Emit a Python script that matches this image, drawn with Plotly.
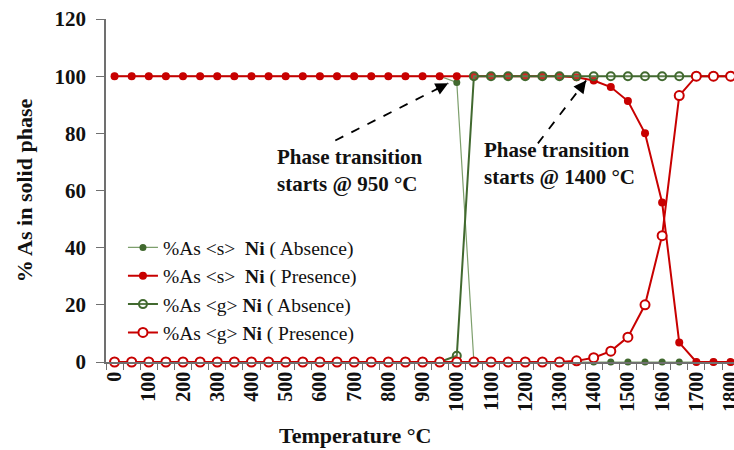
import plotly.graph_objects as go

# Temperature grid (°C)
temperature = [0, 50, 100, 150, 200, 250, 300, 350, 400, 450, 500, 550, 600,
               650, 700, 750, 800, 850, 900, 950, 1000, 1050, 1100, 1150, 1200,
               1250, 1300, 1350, 1400, 1450, 1500, 1550, 1600, 1650, 1700,
               1750, 1800]

# % As in the solid phase for each condition
as_s_absence = [100] * 20 + [97.8] + [0] * 16
as_s_presence = [100] * 27 + [99.6, 98.5, 96.2, 91.3, 80.0, 55.8, 6.8, 0, 0, 0]
as_g_absence = [0] * 20 + [2.2] + [100] * 16
as_g_presence = [0] * 27 + [0.4, 1.5, 3.8, 8.7, 20.0, 44.2, 93.2, 100, 100, 100]

x_tick_vals = [0, 100, 200, 300, 400, 500, 600, 700, 800, 900, 1000, 1100,
               1200, 1300, 1400, 1500, 1600, 1700, 1800]
y_tick_vals = [0, 20, 40, 60, 80, 100, 120]

RED = "#c80000"
GREEN_DARK = "#41692f"
GREEN_LIGHT = "#7d9f6c"
FONT = "Liberation Serif"
INK = "#111111"

fig = go.Figure()

fig.add_trace(go.Scatter(
    x=temperature, y=as_s_absence, mode="lines+markers",
    name="%As &lt;s&gt;  <b>Ni</b> ( Absence)",
    line=dict(color=GREEN_LIGHT, width=1.2),
    marker=dict(symbol="circle", size=7, color=GREEN_DARK),
    cliponaxis=False,
))
fig.add_trace(go.Scatter(
    x=temperature, y=as_s_presence, mode="lines+markers",
    name="%As &lt;s&gt;  <b>Ni</b> ( Presence)",
    line=dict(color=RED, width=2),
    marker=dict(symbol="circle", size=8, color=RED),
    cliponaxis=False,
))
fig.add_trace(go.Scatter(
    x=temperature, y=as_g_absence, mode="lines+markers",
    name="%As &lt;g&gt; <b>Ni</b> ( Absence)",
    line=dict(color=GREEN_DARK, width=2),
    marker=dict(symbol="circle", size=8, color="rgba(255,255,255,0.15)",
                line=dict(color=GREEN_DARK, width=2)),
    cliponaxis=False,
))
fig.add_trace(go.Scatter(
    x=temperature, y=as_g_presence, mode="lines+markers",
    name="%As &lt;g&gt; <b>Ni</b> ( Presence)",
    line=dict(color=RED, width=2),
    marker=dict(symbol="circle", size=9, color="white",
                line=dict(color=RED, width=2)),
    cliponaxis=False,
))

# Dashed arrows pointing at the onset of each transition
arrows = [((645, 77.5), (975, 97.5)), ((1237, 76.5), (1378, 98.5))]
for (x0, y0), (x1, y1) in arrows:
    fig.add_shape(type="line", x0=x0, y0=y0, x1=x1, y1=y1,
                  line=dict(color="black", width=1.8, dash="dash"))
    fig.add_annotation(x=x1, y=y1, ax=x0 + (x1 - x0) * 0.88,
                       ay=y0 + (y1 - y0) * 0.88, axref="x", ayref="y",
                       text="", showarrow=True, arrowhead=2, arrowsize=1.4,
                       arrowwidth=1.8, arrowcolor="black")

label_font = dict(family=FONT, size=21, color=INK)
fig.add_annotation(x=470, y=76.5, xref="x", yref="y", xanchor="left",
                   yanchor="top", align="left", showarrow=False,
                   text="<b>Phase transition<br>starts @ 950 °C</b>",
                   font=label_font)
fig.add_annotation(x=1075, y=79, xref="x", yref="y", xanchor="left",
                   yanchor="top", align="left", showarrow=False,
                   text="<b>Phase transition<br>starts @ 1400 °C</b>",
                   font=label_font)

fig.add_annotation(x=0.396, y=-0.215, xref="paper", yref="paper",
                   xanchor="center", yanchor="middle", showarrow=False,
                   text="<b>Temperature °C</b>",
                   font=dict(family=FONT, size=22, color=INK))

fig.update_layout(
    width=734, height=450,
    margin=dict(l=106, r=0, t=19, b=88),
    plot_bgcolor="white", paper_bgcolor="white",
    font=dict(family=FONT, size=18, color=INK),
    showlegend=True,
    legend=dict(x=0.027, y=0.39, xanchor="left", yanchor="top",
                bgcolor="rgba(0,0,0,0)", traceorder="normal",
                font=dict(family=FONT, size=19.5, color=INK)),
    xaxis=dict(range=[-25, 1810], tickmode="array", tickvals=x_tick_vals,
               ticktext=[f"<b>{v}</b>" for v in x_tick_vals], tickangle=-90,
               ticks="", showgrid=False, zeroline=False, automargin=False,
               showline=True, linecolor="#707070", linewidth=1.5,
               ticklabeloverflow="allow",
               tickfont=dict(family=FONT, size=20, color=INK),
               minor=dict(ticks="outside", ticklen=6, tickcolor="#707070",
                          tick0=25, dtick=50, showgrid=False)),
    yaxis=dict(range=[0, 120], tickmode="array", tickvals=y_tick_vals,
               ticktext=[f"<b>{v}</b>" for v in y_tick_vals],
               ticks="outside", ticklen=8, tickcolor="#707070",
               ticklabelstandoff=6, automargin=False,
               showgrid=False, zeroline=False, showline=True,
               linecolor="#707070", linewidth=1.5,
               tickfont=dict(family=FONT, size=21, color=INK),
               title=dict(text="<b>% As in solid phase</b>", standoff=16,
                          font=dict(family=FONT, size=22, color=INK))),
)

fig.write_html("out.html")
